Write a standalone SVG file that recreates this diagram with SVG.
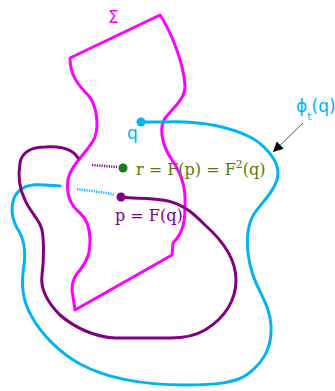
<svg xmlns="http://www.w3.org/2000/svg" width="335" height="391" viewBox="0 0 335 391">
<defs>
<style>
.curve{fill:none;stroke-width:3;stroke-linejoin:round;stroke-linecap:round}
.mag{stroke:#ff00ff}
.blu{stroke:#00b4f0}
.pur{stroke:#800080}
.dot{fill:none;stroke-width:2.5;stroke-dasharray:1.2 1.2}
.serif{font-family:"DejaVu Serif","Liberation Serif",serif;font-size:16px}
.sans{font-family:"DejaVu Sans","Liberation Sans",sans-serif;font-size:17px}
</style>
<marker id="ah" viewBox="0 0 10 10" refX="10" refY="5" markerWidth="10" markerHeight="10" markerUnits="userSpaceOnUse" orient="auto">
<path d="M0,0 L10,5 L0,10 Z" fill="#000"/>
</marker>
</defs>
<rect width="335" height="391" fill="#fff"/>
<g id="sigma">
<path class="curve mag" d="M70,58 L160,15 C170,30 183,60 185,85 C186,100 170,110 164,120 C158,132 165,150 172,160 C180,172 186,185 185,205 C185,220 184,232 173,243 L172,255 L75,310 L72,290 C72,280 75,276 80,270 C88,260 90,252 90,240 C90,230 88,220 80,213 C70,205 66,195 68,180 C70,165 90,150 95,137 C99,125 97,105 88,95 C78,85 70,75 70,58 Z"/>
<text class="sans" x="108" y="23" fill="#ff00ff">Σ</text>
</g>
<g id="flow">
<path class="curve blu" d="M141,122 L165,122 C195,121 225,125 250,137 C265,145 278,160 278,173 C278,188 262,202 254,214 C245,228 246,252 252,272 C257,290 270,305 271,325 C272,345 266,360 248,374 C236,383 215,385 185,385 C150,385 110,380 80,364 C60,353 42,335 32,317 C22,300 21,285 24,265 C26,250 24,238 17,228 C10,215 10,198 20,190 C30,182 45,185 60,186"/>
<path class="dot blu" d="M77,189 C90,191 105,192 115,195"/>
<circle cx="141" cy="122" r="4.5" fill="#00b4f0"/>
<text class="sans" x="127" y="139" fill="#00b4f0">q</text>
<text class="sans" x="296" y="112" fill="#00b4f0">ϕ<tspan font-size="11" dy="8">t</tspan><tspan dy="-8">(q)</tspan></text>
</g>
<g id="p">
<path class="curve pur" d="M121,197 C135,199 150,197 168,201 C185,205 195,215 205,225 C222,240 236,258 236,280 C236,300 225,318 205,330 C195,336 185,338 170,338 L115,338 C95,337 75,328 60,315 C48,303 40,290 42,275 C44,260 44,240 42,230 C40,220 30,212 25,200 C19,188 18,175 20,163 C22,152 32,147 45,147 C58,146 72,148 78,158"/>
<path class="dot pur" d="M92,165 L117,167"/>
<circle cx="121" cy="197" r="4.5" fill="#800080"/>
<text class="serif" x="115" y="221" fill="#800080">p = F(q)</text>
</g>
<g id="r">
<circle cx="123" cy="168" r="4.5" fill="#1a7a1a"/>
<text class="serif" x="136" y="175" fill="#557a10">r = F(p) = F<tspan font-size="11" dy="-7">2</tspan><tspan dy="7">(q)</tspan></text>
</g>
<g id="connectors">
<line x1="303" y1="123" x2="273" y2="152" stroke="#555" stroke-width="1" marker-end="url(#ah)"/>
</g>
</svg>
